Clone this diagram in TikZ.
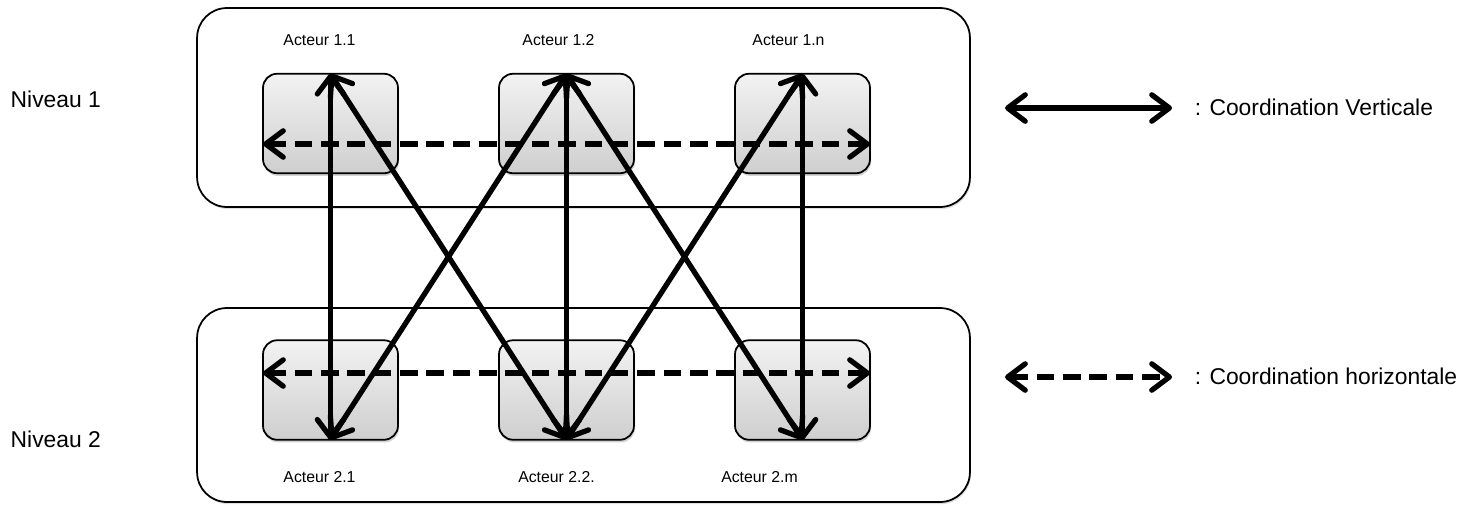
\documentclass[tikz,border=0pt]{standalone}
\usepackage{fontspec}
\setmainfont{Liberation Sans}
\usetikzlibrary{positioning,arrows.meta,shadows}
\tikzset{
  every picture/.style={
    line width=1pt
  },
  levelbox/.style={draw, rounded corners=17pt, fill=white, minimum width=15.46cm,
    inner sep=0pt, outer sep=0pt,
    drop shadow={opacity=0.25, shadow xshift=0.6pt, shadow yshift=-1.2pt}},
  actorbox/.style={draw, rounded corners=8pt, top color=gray!10, bottom color=gray!38,
    minimum width=2.7cm, minimum height=1.99cm, inner sep=0pt, outer sep=0pt,
    drop shadow={opacity=0.35, shadow xshift=0.6pt, shadow yshift=-1.5pt}},
  lbl/.style={font=\fontsize{9}{11}\selectfont},
  bigtxt/.style={font=\fontsize{13}{15}\selectfont},
  vlink/.style={line width=3pt,
    {Straight Barb[round,length=10pt,width=15pt]}-{Straight Barb[round,length=10pt,width=15pt]}},
  hlink/.style={vlink, dash pattern=on 10pt off 5pt}
}
\begin{document}
\begin{tikzpicture}[x=0.02cm, y=-0.02cm]
  \useasboundingbox (0,0) rectangle (1470,505);

  % levels
  \node[levelbox, minimum height=3.98cm] (lev1) at (583.5,107.5) {};
  \node[levelbox, minimum height=3.88cm] (lev2) at (583.5,405) {};
  \node[bigtxt, anchor=west] (niv1) at (4,99) {Niveau 1};
  \node[bigtxt, anchor=west] (niv2) at (4,439) {Niveau 2};

  % actors
  \node[actorbox] (a11) at (330.5,123.5) {};
  \node[actorbox] (a12) at (566.5,123.5) {};
  \node[actorbox] (a1n) at (802.5,123.5) {};
  \node[actorbox] (a21) at (330.5,390) {};
  \node[actorbox] (a22) at (566.5,390) {};
  \node[actorbox] (a2m) at (802.5,390) {};

  \node[lbl, above=0.42cm of a11, xshift=-0.22cm] (t11) {Acteur 1.1};
  \node[lbl, above=0.42cm of a12, xshift=-0.16cm] (t12) {Acteur 1.2};
  \node[lbl, above=0.42cm of a1n, xshift=-0.28cm] (t1n) {Acteur 1.n};
  \node[lbl, below=0.5cm of a21, xshift=-0.22cm] (t21) {Acteur 2.1};
  \node[lbl, below=0.5cm of a22, xshift=-0.2cm] (t22) {Acteur 2.2.};
  \node[lbl, below=0.5cm of a2m, xshift=-0.86cm] (t2m) {Acteur 2.m};

  % vertical coordination
  \draw[vlink] (a11.north) -- (a21.south);
  \draw[vlink] (a11.north) -- (a22.south);
  \draw[vlink] (a12.north) -- (a21.south);
  \draw[vlink] (a12.north) -- (a22.south);
  \draw[vlink] (a12.north) -- (a2m.south);
  \draw[vlink] (a1n.north) -- (a22.south);
  \draw[vlink] (a1n.north) -- (a2m.south);

  % horizontal coordination
  \draw[hlink] ([yshift=-0.41cm]a11.west) -- ([yshift=-0.41cm]a1n.east);
  \draw[hlink] ([yshift=0.34cm]a21.west) -- ([yshift=0.34cm]a2m.east);

  % legend
  \node[bigtxt, anchor=west] (legv) at (1188,107) {: Coordination Verticale};
  \node[bigtxt, anchor=west] (legh) at (1188,376) {: Coordination horizontale};
  \coordinate (v1) at (1005,108);
  \coordinate (v2) at (1172,108);
  \coordinate (h1) at (1005,377);
  \coordinate (h2) at (1172,377);
  \draw[vlink] (v1) -- (v2);
  \draw[hlink] (h1) -- (h2);
\end{tikzpicture}
\end{document}
